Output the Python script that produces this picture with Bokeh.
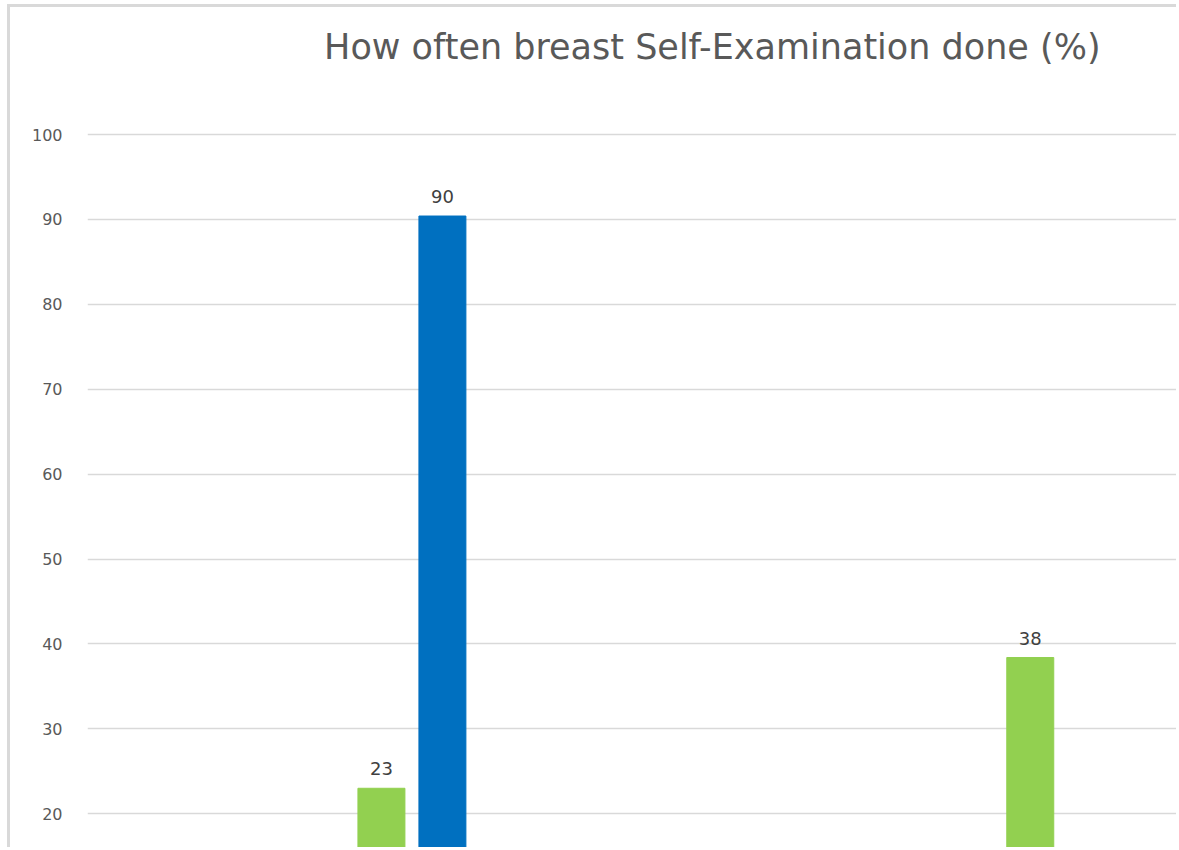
from bokeh.plotting import figure
from bokeh.models import ColumnDataSource, FixedTicker, LabelSet, Label
from bokeh.core.properties import value
from bokeh.embed import file_html
from bokeh.resources import INLINE

# data
categories = ["Group 1", "Group 2"]
green_values = [23.0, 38.4]
blue_values = [90.4, None]
green_labels = ["23", "38"]
blue_labels = ["90", ""]
y_ticks = [20, 30, 40, 50, 60, 70, 80, 90, 100]
title_text = "How often breast Self-Examination done (%)"

GREEN = "#92D050"
BLUE = "#0070C0"
FONT = "DejaVu Sans"

idx = list(range(len(categories)))
gx = [i + 0.5 - 0.047 for i in idx]
bx = [i + 0.5 + 0.047 for i in idx]

g_src = ColumnDataSource(dict(x=gx, top=green_values, lab=green_labels))
b_x = [x for x, v in zip(bx, blue_values) if v is not None]
b_top = [v for v in blue_values if v is not None]
b_lab = [l for l, v in zip(blue_labels, blue_values) if v is not None]
b_src = ColumnDataSource(dict(x=b_x, top=b_top, lab=b_lab))

p = figure(width=1169, height=843, output_backend="svg", toolbar_location=None,
           x_range=(0, 1.683), y_range=(15.67, 114.96),
           min_border_left=77, min_border_right=0, min_border_top=0, min_border_bottom=0)

p.styles = {"border-top": "3px solid #d9d9d9", "border-left": "3px solid #d9d9d9",
            "margin-top": "4px", "margin-left": "7px"}

p.add_layout(Label(x=0.963, y=110.35, text=title_text, text_align="center",
                   text_baseline="alphabetic", text_font=FONT, text_font_size="35px",
                   text_color="#595959"))

p.vbar(x="x", top="top", bottom=0, width=0.0724, source=g_src,
       fill_color=GREEN, line_color=GREEN)
p.vbar(x="x", top="top", bottom=0, width=0.0724, source=b_src,
       fill_color=BLUE, line_color=BLUE)

for src in (g_src, b_src):
    p.add_layout(LabelSet(x="x", y="top", text="lab", source=src,
                          text_align="center", text_baseline="bottom", y_offset=13,
                          text_font=value(FONT), text_font_size=value("18px"),
                          text_color=value("#404040")))

p.xaxis.visible = False
p.xgrid.grid_line_color = None
p.ygrid.grid_line_color = "#d9d9d9"
p.ygrid.grid_line_width = 1.5
p.yaxis.ticker = FixedTicker(ticks=y_ticks)
p.yaxis.axis_line_color = None
p.yaxis.major_tick_line_color = None
p.yaxis.minor_tick_line_color = None
p.yaxis.major_label_standoff = 19
p.yaxis.major_label_text_font = FONT
p.yaxis.major_label_text_font_size = "16px"
p.yaxis.major_label_text_color = "#595959"
p.outline_line_color = None

open("out.html", "w").write(file_html(p, INLINE))
